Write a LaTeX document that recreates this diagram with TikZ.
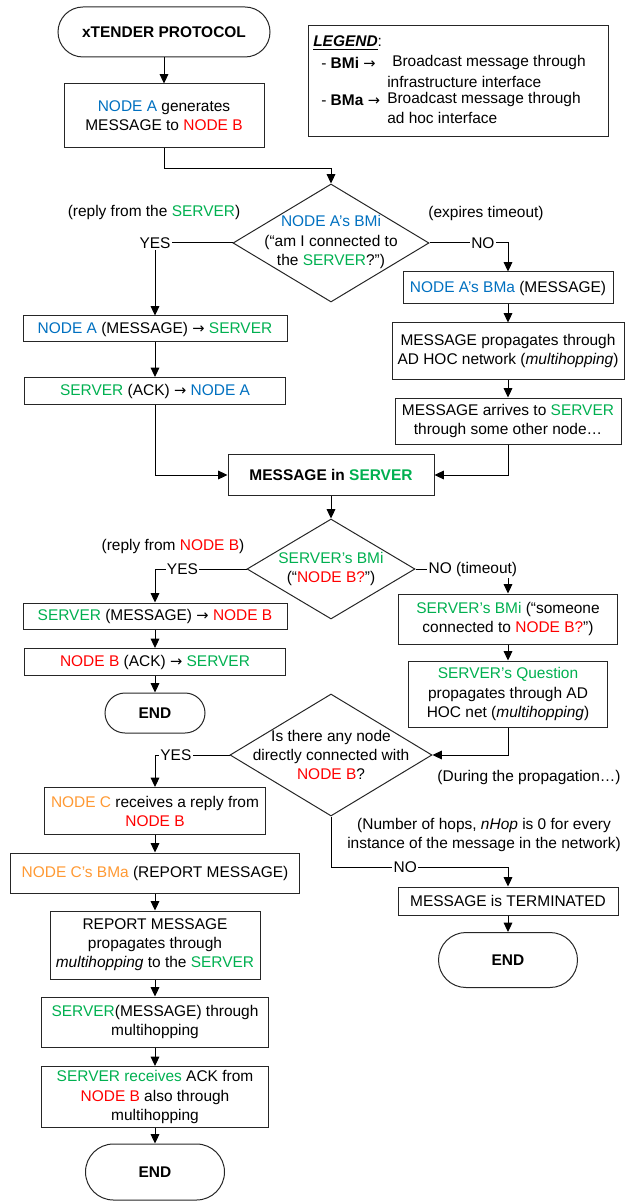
\documentclass[tikz,border=0pt]{standalone}
\usepackage{fontspec}
\setmainfont{Liberation Sans}
\newfontfamily\arrfont{DejaVu Sans}
\usetikzlibrary{shapes.geometric,arrows.meta,calc}
\definecolor{nA}{RGB}{0,112,192}
\definecolor{sv}{RGB}{0,176,80}
\definecolor{nB}{RGB}{255,0,0}
\definecolor{nC}{RGB}{255,153,51}
\newcommand{\fsz}{\fontsize{11.6pt}{14.3pt}\selectfont}
\newcommand{\rarr}{{\arrfont\fontsize{11pt}{14.3pt}\selectfont →}}
\begin{document}
\begin{tikzpicture}[x=0.75pt,y=-0.75pt,
  every node/.style={font=\fsz, inner sep=1.5pt},
  box/.style={draw=black!85, line width=0.75pt, rectangle, align=center},
  term/.style={draw=black!85, line width=0.75pt, rectangle, font=\fsz\bfseries},
  dia/.style={draw=black!85, diamond, inner sep=0pt, line width=0.75pt},
  arr/.style={line width=0.75pt, -{Triangle[length=7pt,width=6.5pt]}},
  lbl/.style={fill=white, inner sep=1pt}]
\useasboundingbox (0,0) rectangle (624,1201);

% top
\node[term, minimum width=159pt, minimum height=37.5pt, rounded corners=18.75pt] (start) at (164,32) {xTENDER PROTOCOL};
\node[box, minimum width=150pt, minimum height=48pt] (boxA) at (164,116) {{\color{nA}NODE A} generates\\MESSAGE to {\color{nB}NODE B}};

% legend
\node[box, minimum width=225pt, minimum height=83.25pt] (legend) at (458,81.5) {};
\node[anchor=west] (lg1) at (311,43) {\underline{\textbf{\textit{LEGEND}}}:};
\node[anchor=west] (lg2) at (319,63) {- \textbf{BMi} \rarr};
\node[anchor=west] (lg2b) at (390,63) {Broadcast message through};
\node[anchor=west] (lg3) at (385,82) {infrastructure interface};
\node[anchor=west] (lg4) at (319,100) {- \textbf{BMa} \rarr};
\node[anchor=west] (lg4b) at (385,100) {Broadcast message through};
\node[anchor=west] (lg5) at (385,118) {ad hoc interface};

% first decision
\node[dia, minimum width=147pt, minimum height=88.5pt] (d1) at (331,243) {};
\node[align=center] (d1t) at (331,242) {{\color{nA}NODE A’s BMi}\\(“am I connected to\\the {\color{sv}SERVER}?”)};
\node (rs) at (154,213) {(reply from the {\color{sv}SERVER})};
\node (et) at (486,214) {(expires timeout)};

\node[box, minimum width=198pt, minimum height=19.5pt] (bAM) at (155,329) {{\color{nA}NODE A} (MESSAGE) \rarr\ {\color{sv}SERVER}};
\node[box, minimum width=195.75pt, minimum height=20.25pt] (bSA) at (155,391) {{\color{sv}SERVER} (ACK) \rarr\ {\color{nA}NODE A}};

\node[box, minimum width=157.5pt, minimum height=24pt] (bBMa) at (508,288) {{\color{nA}NODE A’s BMa} (MESSAGE)};
\node[box, minimum width=174pt, minimum height=42pt] (bProp) at (508,351) {MESSAGE propagates through\\AD HOC network (\textit{multihopping})};
\node[box, minimum width=169.5pt, minimum height=34.5pt] (bArr) at (508,421) {MESSAGE arrives to {\color{sv}SERVER}\\through some other node…};

\node[box, minimum width=154.5pt, minimum height=30.75pt, font=\fsz\bfseries] (bMS) at (331,475) {MESSAGE in {\color{sv}SERVER}};

% second decision
\node[dia, minimum width=126pt, minimum height=75pt] (d2) at (331,569) {};
\node[align=center] (d2t) at (331,569) {{\color{sv}SERVER’s BMi}\\(“{\color{nB}NODE B?}”)};
\node (rb) at (173,546) {(reply from {\color{nB}NODE B})};

\node[box, minimum width=198pt, minimum height=19.5pt] (bSM) at (155,616) {{\color{sv}SERVER} (MESSAGE) \rarr\ {\color{nB}NODE B}};
\node[box, minimum width=195.75pt, minimum height=20.25pt] (bBA) at (155,662) {{\color{nB}NODE B} (ACK) \rarr\ {\color{sv}SERVER}};
\node[term, minimum width=75pt, minimum height=30pt, rounded corners=15pt] (end1) at (155,713) {END};

\node[box, minimum width=164.25pt, minimum height=37.5pt] (bSQ) at (508,619) {{\color{sv}SERVER’s BMi} (“someone\\connected to {\color{nB}NODE B?}”)};
\node[box, minimum width=149.25pt, minimum height=49.5pt] (bQP) at (508,694) {{\color{sv}SERVER’s Question}\\propagates through AD\\HOC net (\textit{multihopping})};

% third decision
\node[dia, minimum width=151.5pt, minimum height=91.5pt] (d3) at (331,755) {};
\node[align=center] (d3t) at (331,755) {Is there any node\\directly connected with\\{\color{nB}NODE B}?};
\node (dp) at (529,777) {(During the propagation…)};
\node[align=center] (nh) at (484,835) {(Number of hops, \textit{nHop} is 0 for every\\instance of the message in the network)};

\node[box, minimum width=165.75pt, minimum height=35.25pt] (bC) at (155,811) {{\color{nC}NODE C} receives a reply from\\{\color{nB}NODE B}};
\node[box, minimum width=216.75pt, minimum height=30pt] (bCB) at (155,873) {{\color{nC}NODE C’s BMa} (REPORT MESSAGE)};
\node[box, minimum width=157.5pt, minimum height=51pt] (bRep) at (155,945) {REPORT MESSAGE\\propagates through\\\textit{multihopping} to the {\color{sv}SERVER}};
\node[box, minimum width=170.25pt, minimum height=37.5pt] (bSrv) at (155,1022) {{\color{sv}SERVER}(MESSAGE) through\\multihopping};
\node[box, minimum width=170.25pt, minimum height=45.75pt] (bAck) at (155,1097) {{\color{sv}SERVER receives} ACK from\\{\color{nB}NODE B} also through\\multihopping};
\node[term, minimum width=104.25pt, minimum height=42pt, rounded corners=21pt] (end2) at (155,1172) {END};

\node[box, minimum width=165pt, minimum height=21pt] (bTerm) at (508,901) {MESSAGE is TERMINATED};
\node[term, minimum width=104.25pt, minimum height=41.25pt, rounded corners=20.6pt] (end3) at (508,960) {END};

\coordinate (c1) at (164,169);
\coordinate (c3) at (331,867);

% connectors
\draw[arr] (start) -- (boxA);
\draw[arr] (boxA.south) -- (c1) -| (d1.north);
\draw[arr] (d1.west) -| node[lbl, pos=0.5] {YES} (bAM.north);
\draw[arr] (d1.east) -| node[lbl, pos=0.34] {NO} (bBMa.north);
\draw[arr] (bAM) -- (bSA);
\draw[arr] (bSA.south) |- (bMS.west);
\draw[arr] (bBMa) -- (bProp);
\draw[arr] (bProp) -- (bArr);
\draw[arr] (bArr.south) |- (bMS.east);
\draw[arr] (bMS) -- (d2.north);
\draw[arr] (d2.west) -| node[lbl, pos=0.35] {YES} (bSM.north);
\draw[arr] (d2.east) -| node[lbl, pos=0.31] {NO (timeout)} (bSQ.north);
\draw[arr] (bSM) -- (bBA);
\draw[arr] (bBA) -- (end1);
\draw[arr] (bSQ) -- (bQP);
\draw[arr] (bQP.south) |- (d3.east);
\draw[arr] (d3.west) -| node[lbl, pos=0.36] {YES} (bC.north);
\draw[arr] (bC) -- (bCB);
\draw[arr] (bCB) -- (bRep);
\draw[arr] (bRep) -- (bSrv);
\draw[arr] (bSrv) -- (bAck);
\draw[arr] (bAck) -- (end2);
\draw[arr] (d3.south) -- (c3) -| node[lbl, pos=0.21] {NO} (bTerm.north);
\draw[arr] (bTerm) -- (end3);
\end{tikzpicture}
\end{document}
